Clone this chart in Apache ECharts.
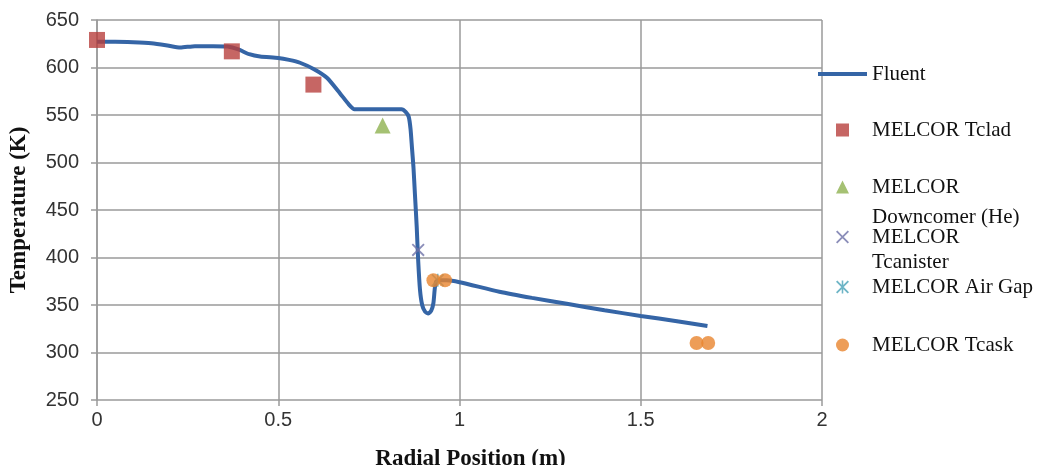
<!DOCTYPE html>
<html>
<head>
<meta charset="utf-8">
<script src="https://cdn.jsdelivr.net/npm/echarts@6/dist/echarts.min.js"></script>
<style>
  html, body { margin: 0; padding: 0; background: #fff; }
  #chart { width: 1044px; height: 465px; }
</style>
</head>
<body>
<div id="chart"></div>
<script>
// Fluent 曲线
const fluentX = [0, 0.05, 0.1, 0.15, 0.19, 0.23, 0.27, 0.32, 0.36, 0.39, 0.42, 0.45, 0.5, 0.53, 0.56, 0.6, 0.635, 0.67, 0.695, 0.71, 0.75, 0.8, 0.84, 0.852, 0.86, 0.865, 0.869, 0.873, 0.877, 0.882, 0.886, 0.891, 0.897, 0.905, 0.914, 0.922, 0.928, 0.932, 0.936, 0.945, 0.965, 1.0, 1.11, 1.2, 1.3, 1.4, 1.5, 1.6, 1.684];
const fluentT = [627, 627, 626.5, 625.5, 623.5, 621, 622.5, 622.5, 622, 619, 614, 611.5, 610, 608, 605, 598, 589, 573, 561, 556, 556, 556, 556, 553, 548, 535, 515, 495, 467, 432, 397, 366, 350, 343, 341, 344, 352, 368, 375, 376, 376, 374, 364, 357.5, 351, 344.5, 338.5, 333, 328];

// MELCOR 点
const tcladX = [0, 0.372, 0.597];
const tcladT = [629, 617, 582];
const downcomerX = [0.788];
const downcomerT = [539];
const canisterX = [0.886];
const canisterT = [408];
const airGapX = [0.94];
const airGapT = [376];
const caskX = [0.928, 0.96, 1.654, 1.686];
const caskT = [376, 376, 310, 310];

// 坐标轴刻度
const xTicks = [0, 0.5, 1, 1.5, 2];
const yTicks = [250, 300, 350, 400, 450, 500, 550, 600, 650];

const zip = (xs, ys) => xs.map((x, i) => [x, ys[i]]);

const crossPath = 'path://M0,1 L1,0 L10,9 L9,10 Z M9,0 L10,1 L1,10 L0,9 Z';
const starPath = 'path://M0,1 L1,0 L10,9 L9,10 Z M9,0 L10,1 L1,10 L0,9 Z M4.4,0 L5.6,0 L5.6,10 L4.4,10 Z';

const serif = 'Liberation Serif';
const sans = 'Liberation Sans';
const legendFont = 21;

// 图例：每项单独一个，方便对齐；多行的在前面补一个空行，让图标对齐第一行
function oneLegend(name, cy, lines, lineH, opts) {
  const shown = lines > 1 ? lines + 1 : 1;
  const top = cy - shown * lineH / 2;
  return Object.assign({
    data: [name],
    orient: 'vertical',
    left: 836,
    top: top,
    padding: 0,
    itemWidth: 13,
    itemHeight: 13,
    selectedMode: false,
    formatter: lines > 1 ? (n => '\n' + n) : undefined,
    textStyle: {
      fontFamily: serif,
      fontSize: legendFont,
      color: '#111',
      lineHeight: lineH,
      padding: [0, 0, 0, 18]
    }
  }, opts || {});
}

const chart = echarts.init(document.getElementById('chart'), null, { renderer: 'canvas' });

const option = {
  backgroundColor: '#fff',
  animation: false,
  grid: { left: 97, right: 222, top: 20, bottom: 65, outerBoundsMode: 'none' },
  legend: [
    oneLegend('Fluent', 74, 1, 26, {
      left: 818, itemWidth: 49, itemHeight: 4,
      data: [{ name: 'Fluent', icon: 'rect' }],
      itemStyle: { color: '#3565a6' },
      textStyle: { fontFamily: serif, fontSize: legendFont, color: '#111', lineHeight: 26 }
    }),
    oneLegend('MELCOR Tclad', 130, 1, 26),
    oneLegend('MELCOR\nDowncomer (He)', 187, 2, 30),
    oneLegend('MELCOR\nTcanister', 237, 2, 25),
    oneLegend('MELCOR Air Gap', 287, 1, 26),
    oneLegend('MELCOR Tcask', 345, 1, 26)
  ],
  xAxis: {
    type: 'value',
    min: xTicks[0],
    max: xTicks[xTicks.length - 1],
    interval: 0.5,
    name: 'Radial Position (m)',
    nameLocation: 'middle',
    nameGap: 48,
    nameTextStyle: { fontFamily: serif, fontWeight: 'bold', fontSize: 23, color: '#111', padding: [0, 0, 0, 22] },
    axisLine: { show: false },
    axisTick: { show: true, length: 6, lineStyle: { color: '#9a9a9a', width: 1.5 } },
    axisLabel: { fontFamily: sans, fontSize: 20, color: '#333', margin: 10 },
    splitLine: { show: true, lineStyle: { color: '#9a9a9a', width: 1.5 } }
  },
  yAxis: {
    type: 'value',
    min: yTicks[0],
    max: yTicks[yTicks.length - 1],
    interval: 50,
    name: 'Temperature (K)',
    nameLocation: 'middle',
    nameGap: 66,
    nameTextStyle: { fontFamily: serif, fontWeight: 'bold', fontSize: 23, color: '#111' },
    axisLine: { show: true, lineStyle: { color: '#9a9a9a', width: 1.5 } },
    axisTick: { show: true, length: 6, lineStyle: { color: '#9a9a9a', width: 1.5 } },
    axisLabel: { fontFamily: sans, fontSize: 20, color: '#333', margin: 18 },
    splitLine: { show: true, lineStyle: { color: '#9a9a9a', width: 1.5 } }
  },
  series: [
    {
      name: 'Fluent',
      type: 'line',
      data: zip(fluentX, fluentT),
      smooth: 0.2,
      showSymbol: false,
      symbol: 'none',
      lineStyle: { color: '#3565a6', width: 4 },
      itemStyle: { color: '#3565a6' },
      z: 2
    },
    {
      name: 'MELCOR Tclad',
      type: 'scatter',
      data: zip(tcladX, tcladT),
      symbol: 'rect',
      symbolSize: 16,
      itemStyle: { color: '#b8403d' },
      z: 3
    },
    {
      name: 'MELCOR\nDowncomer (He)',
      type: 'scatter',
      data: zip(downcomerX, downcomerT),
      symbol: 'triangle',
      symbolSize: 16,
      itemStyle: { color: '#8fb150' },
      z: 3
    },
    {
      name: 'MELCOR\nTcanister',
      type: 'scatter',
      data: zip(canisterX, canisterT),
      symbol: crossPath,
      symbolSize: 13,
      itemStyle: { color: '#6e72a8' },
      z: 3
    },
    {
      name: 'MELCOR Air Gap',
      type: 'scatter',
      data: zip(airGapX, airGapT),
      symbol: starPath,
      symbolSize: 13,
      itemStyle: { color: '#4aa3b8' },
      z: 3
    },
    {
      name: 'MELCOR Tcask',
      type: 'scatter',
      data: zip(caskX, caskT),
      symbol: 'circle',
      symbolSize: 14,
      itemStyle: { color: '#e9852e' },
      z: 4
    }
  ]
};

chart.setOption(option);
</script>
</body>
</html>
